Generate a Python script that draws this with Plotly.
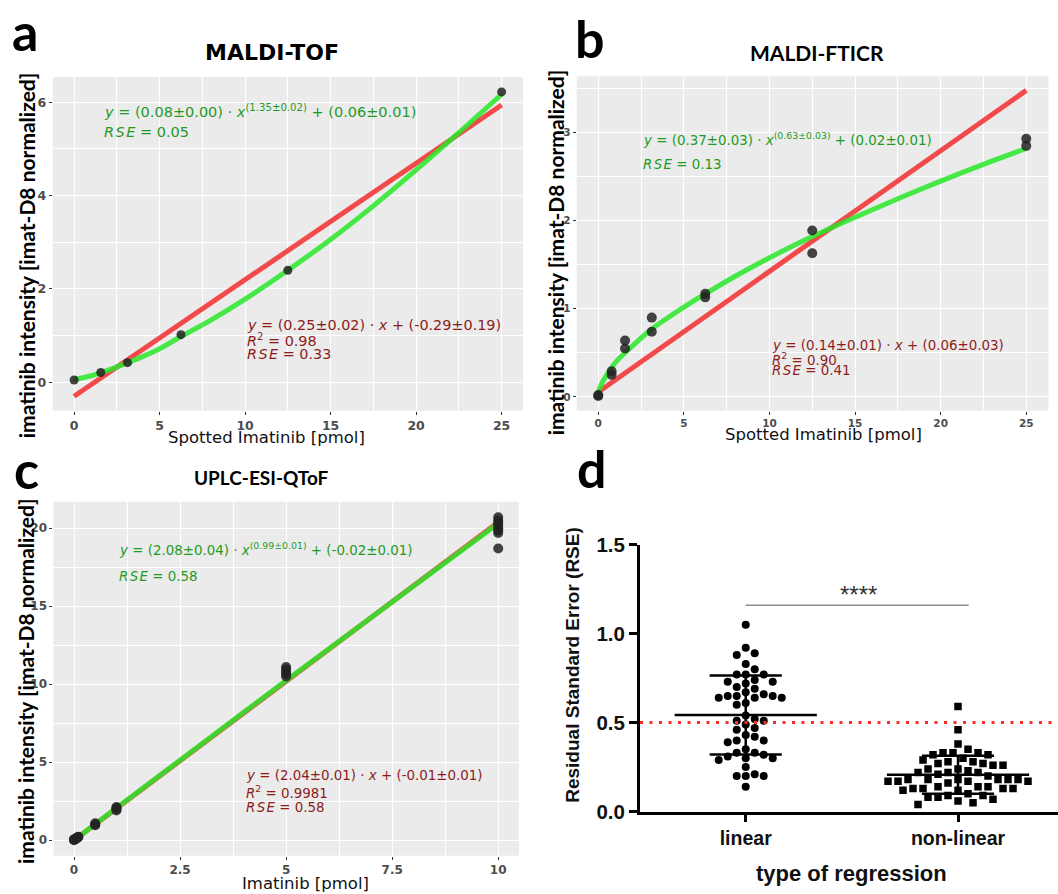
import numpy as np
import plotly.graph_objects as go

W, H = 1058, 894

# ---------------- data ----------------
# panel a : MALDI-TOF
a_x = [0, 1.5625, 3.125, 6.25, 12.5, 25]
a_y = [0.05, 0.21, 0.42, 1.02, 2.40, 6.22]
a_lin_x = [0, 25]
a_lin_y = [-0.30, 5.94]
a_fit_x = [0, 1, 2, 3, 4, 5, 6.25, 8, 10, 12.5, 15, 17.5, 20, 22.5, 25]
a_fit_y = [0.06, 0.14, 0.26, 0.40, 0.55, 0.72, 0.98, 1.33, 1.78, 2.40, 3.06, 3.78, 4.55, 5.35, 6.17]

# panel b : MALDI-FTICR
b_x = [0, 0, 0.78125, 0.78125, 1.5625, 1.5625, 3.125, 3.125, 6.25, 6.25, 12.5, 12.5, 25, 25]
b_y = [0.01, 0.02, 0.29, 0.25, 0.64, 0.55, 0.90, 0.74, 1.17, 1.13, 1.89, 1.63, 2.93, 2.85]
b_lin_x = [0, 25]
b_lin_y = [0.055, 3.48]
b_fit_x = [0, 0.05, 0.25, 0.5, 0.78, 1, 1.56, 2, 3.125, 4, 5, 6.25, 8, 10, 12.5, 15, 17.5, 20, 22.5, 25]
b_fit_y = [0.02, 0.08, 0.17, 0.25, 0.33, 0.39, 0.50, 0.58, 0.77, 0.89, 1.02, 1.17, 1.37, 1.58, 1.82, 2.04, 2.25, 2.45, 2.64, 2.82]

# panel c : UPLC-ESI-QToF
c_x = [0, 0, 0, 0.05, 0.05, 0.1, 0.1, 0.1, 0.5, 0.5, 0.5, 1, 1, 1, 1,
       5, 5, 5, 5, 5, 10, 10, 10, 10, 10, 10, 10, 10]
c_y = [0.0, 0.02, 0.05, 0.08, 0.12, 0.18, 0.20, 0.22, 0.95, 1.00, 1.08, 1.90, 2.00, 2.05, 2.12,
       10.50, 10.65, 10.80, 10.95, 11.10, 18.70, 19.70, 19.85, 20.00, 20.20, 20.35, 20.50, 20.70]
c_lin_x = [0, 10]
c_lin_y = [-0.01, 20.39]
c_fit_x = [0, 0.5, 1, 2.5, 5, 7.5, 10]
c_fit_y = [-0.02, 1.03, 2.06, 5.13, 10.24, 15.27, 20.31]

# panel d : RSE comparison
d_categories = ["linear", "non-linear"]
d_linear = [1.05, 0.92, 0.89, 0.88, 0.83, 0.80, 0.77, 0.77, 0.77, 0.74, 0.73, 0.73, 0.72, 0.70,
            0.69, 0.67, 0.66, 0.65, 0.65, 0.65, 0.64, 0.64, 0.64, 0.61, 0.60, 0.54, 0.52, 0.51,
            0.51, 0.49, 0.47, 0.46, 0.43, 0.42, 0.40, 0.40, 0.39, 0.35, 0.33, 0.33, 0.32, 0.31,
            0.30, 0.30, 0.29, 0.25, 0.21, 0.20, 0.20, 0.20, 0.14]
d_nonlinear = [0.59, 0.46, 0.38, 0.35, 0.33, 0.33, 0.33, 0.32, 0.32, 0.30, 0.29, 0.28, 0.28, 0.27,
               0.27, 0.26, 0.26, 0.24, 0.24, 0.23, 0.22, 0.22, 0.22, 0.21, 0.20, 0.18, 0.18, 0.18,
               0.18, 0.18, 0.18, 0.17, 0.17, 0.17, 0.17, 0.16, 0.14, 0.14, 0.14, 0.13, 0.13, 0.13,
               0.13, 0.12, 0.12, 0.10, 0.09, 0.09, 0.08, 0.08, 0.07, 0.06, 0.05, 0.04]
d_threshold = 0.5
d_sig_x = [0.0, 1.05]
d_sig_y = 1.16
d_sig_text = "****"

# ---------------- styling helpers ----------------
GREEN_LINE = "rgba(40,232,40,0.85)"
RED_LINE = "rgba(242,60,60,0.92)"
GREEN_TXT = "#1f9a1f"
RED_TXT = "#8e1b1b"
PT = "rgba(35,35,35,0.85)"


def px_x(p):
    return p / W


def py_y(p):
    return 1 - p / H


def gg_axis(dom, rng, dtick, fs, minor_dt):
    return dict(domain=dom, range=rng, dtick=dtick, tick0=0, showgrid=True,
                gridcolor="white", gridwidth=1.2, zeroline=False, showline=False,
                ticks="outside", ticklen=3, tickwidth=1, tickcolor="#333333",
                tickfont=dict(family="DejaVu Sans", size=fs, color="#4d4d4d", weight="bold"),
                minor=dict(dtick=minor_dt, tick0=0, showgrid=True, gridcolor="white",
                           gridwidth=0.5, ticks=""),
                fixedrange=True)


fig = go.Figure()

panels = [
    ("x", "y", a_x, a_y, a_lin_x, a_lin_y, a_fit_x, a_fit_y, 9),
    ("x2", "y2", b_x, b_y, b_lin_x, b_lin_y, b_fit_x, b_fit_y, 10),
    ("x3", "y3", c_x, c_y, c_lin_x, c_lin_y, c_fit_x, c_fit_y, 10),
]
for xa, ya, px_, py_, lx, ly, fx, fy, ms in panels:
    fig.add_trace(go.Scatter(x=lx, y=ly, mode="lines", xaxis=xa, yaxis=ya,
                             line=dict(color=RED_LINE, width=5), showlegend=False, hoverinfo="skip"))
    fig.add_trace(go.Scatter(x=fx, y=fy, mode="lines", xaxis=xa, yaxis=ya,
                             line=dict(color=GREEN_LINE, width=5, shape="spline"),
                             showlegend=False, hoverinfo="skip"))
    fig.add_trace(go.Scatter(x=px_, y=py_, mode="markers", xaxis=xa, yaxis=ya,
                             marker=dict(color=PT, size=ms), showlegend=False))

# ---- panel d swarm layout computed from values ----
PX_PER_Y = 274.0 / 1.5
PX_PER_CAT = 212.3


def swarm_offsets(vals, diam):
    vals = np.asarray(vals, float)
    order = np.argsort(-vals)
    placed = []
    offs = np.zeros(len(vals))
    step = diam / 2.0
    for i in order:
        yp = vals[i] * PX_PER_Y
        for k in range(0, 200):
            cands = [0.0] if k == 0 else [k * step, -k * step]
            ok = None
            for c in cands:
                if all((c - xo) ** 2 + (yp - yo) ** 2 >= diam ** 2 for xo, yo in placed):
                    ok = c
                    break
            if ok is not None:
                offs[i] = ok
                placed.append((ok, yp))
                break
    return offs / PX_PER_CAT


for ci, (vals, sym, dm) in enumerate([(d_linear, "circle", 9.0), (d_nonlinear, "square", 10.0)]):
    off = swarm_offsets(vals, dm)
    xs = ci + off
    fig.add_trace(go.Scatter(x=xs, y=vals, mode="markers", xaxis="x4", yaxis="y4",
                             marker=dict(color="black", size=8 if sym == "circle" else 7.5, symbol=sym),
                             showlegend=False))
    m = float(np.mean(vals))
    s = float(np.std(vals, ddof=1))
    lw = 2.5
    fig.add_trace(go.Scatter(x=[ci - 0.335, ci + 0.335], y=[m, m], mode="lines", xaxis="x4", yaxis="y4",
                             line=dict(color="black", width=lw), showlegend=False, hoverinfo="skip"))
    for yy in (m - s, m + s):
        fig.add_trace(go.Scatter(x=[ci - 0.17, ci + 0.17], y=[yy, yy], mode="lines", xaxis="x4", yaxis="y4",
                                 line=dict(color="black", width=lw), showlegend=False, hoverinfo="skip"))
    fig.add_trace(go.Scatter(x=[ci, ci], y=[m - s, m + s], mode="lines", xaxis="x4", yaxis="y4",
                             line=dict(color="black", width=lw), showlegend=False, hoverinfo="skip"))

fig.add_trace(go.Scatter(x=[-0.498, 1.471], y=[d_threshold, d_threshold], mode="lines", xaxis="x4", yaxis="y4",
                         line=dict(color="#ff2a2a", width=3, dash="3px,6.5px"), showlegend=False, hoverinfo="skip"))
fig.add_trace(go.Scatter(x=d_sig_x, y=[d_sig_y, d_sig_y], mode="lines", xaxis="x4", yaxis="y4",
                         line=dict(color="#8c8c8c", width=1.5), showlegend=False, hoverinfo="skip"))

# ---------------- layout ----------------
layout = dict(
    width=W, height=H, margin=dict(l=0, r=0, t=0, b=0),
    paper_bgcolor="white", plot_bgcolor="rgba(0,0,0,0)",
    showlegend=False,
    xaxis=gg_axis([px_x(52.7), px_x(523)], [-1.25, 26.25], 5, 12.5, 2.5),
    yaxis=gg_axis([py_y(409.3), py_y(66.7)], [-0.61, 6.54], 2, 12.5, 1),
    xaxis2=gg_axis([px_x(576.7), px_x(1048.5)], [-1.26, 26.3], 5, 10.5, 2.5),
    yaxis2=gg_axis([py_y(409.3), py_y(66)], [-0.158, 3.64], 1, 10.5, 0.5),
    xaxis3=gg_axis([px_x(53.4), px_x(519)], [-0.486, 10.49], 2.5, 12, 1.25),
    yaxis3=gg_axis([py_y(866), py_y(502.7)], [-1.0, 21.7], 5, 12, 2.5),
    xaxis4=dict(domain=[px_x(640), 1.0], range=[-0.498, 1.471], tickvals=[0, 1], ticktext=d_categories,
                showgrid=False, zeroline=False, showline=True, linecolor="black", linewidth=3,
                ticks="outside", ticklen=7, tickwidth=2.5, tickcolor="black",
                tickfont=dict(family="Liberation Sans", size=19.5, weight="bold", color="#111111"),
                fixedrange=True),
    yaxis4=dict(domain=[py_y(820.7), py_y(546.7)], range=[0, 1.5], tickvals=[0, 0.5, 1.0, 1.5],
                ticktext=["0.0", "0.5", "1.0", "1.5"], showgrid=False, zeroline=False, showline=True,
                linecolor="black", linewidth=3, ticks="outside", ticklen=8, tickwidth=2.5,
                tickcolor="black",
                tickfont=dict(family="Liberation Sans", size=20.5, weight="bold", color="#111111"),
                fixedrange=True),
)
layout["xaxis2"]["anchor"] = "y2"
layout["yaxis2"]["anchor"] = "x2"
layout["xaxis3"]["anchor"] = "y3"
layout["yaxis3"]["anchor"] = "x3"
layout["xaxis4"]["anchor"] = "y4"
layout["yaxis4"]["anchor"] = "x4"
fig.update_layout(**layout)

# grey panel backgrounds
for xa, ya in [("x", "y"), ("x2", "y2"), ("x3", "y3")]:
    fig.add_shape(type="rect", xref=f"{xa} domain", yref=f"{ya} domain", x0=0, x1=1, y0=0, y1=1,
                  fillcolor="#ebebeb", line=dict(width=0), layer="below")

ann = []


def A(text, x, y, size, color, family="DejaVu Sans", xanchor="left", yanchor="middle",
      weight="normal", angle=0):
    ann.append(dict(text=text, x=px_x(x), y=py_y(y), xref="paper", yref="paper", showarrow=False,
                    xanchor=xanchor, yanchor=yanchor, textangle=angle,
                    font=dict(family=family, size=size, color=color, weight=weight)))


RSE = "<i>R\u200aS\u200aE</i>"
# panel letters
for t, x, y in [("a", 25, 20), ("b", 590, 27), ("c", 26.7, 469), ("d", 592, 468)]:
    A(t, x, y, 52, "black", family="Lato", xanchor="center", weight="bold")
# titles
A("MALDI-TOF", 271.5, 42, 22, "black", family="DejaVu Sans", xanchor="center", weight="bold")
A("MALDI-FTICR", 816.7, 42, 21, "black", family="Lato", xanchor="center", weight="bold")
A("UPLC-ESI-QToF", 261.7, 478, 19, "black", family="Lato", xanchor="center", weight="bold")
# axis titles
ytitle = "imatinib intensity [imat-D8 normalized]"
A(ytitle, 26.7, 250, 21, "black", family="Lato", xanchor="center", weight="bold", angle=-90)
A(ytitle, 555, 246.7, 21, "black", family="Lato", xanchor="center", weight="bold", angle=-90)
A(ytitle, 25, 686.7, 21, "black", family="Lato", xanchor="center", weight="bold", angle=-90)
A("Spotted Imatinib [pmol]", 266.7, 436.7, 16.5, "#111111", xanchor="center")
A("Spotted Imatinib [pmol]", 823.3, 433.3, 16.5, "#111111", xanchor="center")
A("Imatinib [pmol]", 305, 894, 16.5, "#111111", xanchor="center")
A("Residual Standard Error (RSE)", 573, 670, 19, "#111111", family="Liberation Sans",
  xanchor="center", weight="bold", angle=-90)
A("type of regression", 851.7, 884, 22, "#111111", family="Liberation Sans",
  xanchor="center", weight="bold")
A(d_sig_text, 858, 598, 24, "#333333", family="Liberation Sans", xanchor="center")

# fit equations
A("<i>y</i> = (0.08±0.00) · <i>x</i><sup>(1.35±0.02)</sup> + (0.06±0.01)", 102, 102, 14.5, GREEN_TXT)
A(RSE + " = 0.05", 102, 122.7, 14.5, GREEN_TXT)
A("<i>y</i> = (0.25±0.02) · <i>x</i> + (-0.29±0.19)", 245, 321.7, 14.4, RED_TXT)
A("<i>R</i><sup>2</sup> = 0.98", 245, 336.5, 14.4, RED_TXT)
A(RSE + " = 0.33", 245, 350.7, 14.4, RED_TXT)

A("<i>y</i> = (0.37±0.03) · <i>x</i><sup>(0.63±0.03)</sup> + (0.02±0.01)", 641, 130, 13.4, GREEN_TXT)
A(RSE + " = 0.13", 641, 156.7, 13.4, GREEN_TXT)
A("<i>y</i> = (0.14±0.01) · <i>x</i> + (0.06±0.03)", 770, 342.3, 13.4, RED_TXT)
A("<i>R</i><sup>2</sup> = 0.90", 770, 356, 13.4, RED_TXT)
A(RSE + " = 0.41", 770, 368.3, 13.4, RED_TXT)

A("<i>y</i> = (2.08±0.04) · <i>x</i><sup>(0.99±0.01)</sup> + (-0.02±0.01)", 116.7, 551.5, 13.4, GREEN_TXT)
A(RSE + " = 0.58", 116.7, 579, 13.4, GREEN_TXT)
A("<i>y</i> = (2.04±0.01) · <i>x</i> + (-0.01±0.01)", 244.3, 783.3, 13.4, RED_TXT)
A("<i>R</i><sup>2</sup> = 0.9981", 244.3, 800.5, 13.4, RED_TXT)
A(RSE + " = 0.58", 244.3, 816.7, 13.4, RED_TXT)

fig.update_layout(annotations=ann)
fig.write_html("out.html", config={"displayModeBar": False},
               post_script="document.body.style.margin='0px';document.body.style.overflow='hidden';")
